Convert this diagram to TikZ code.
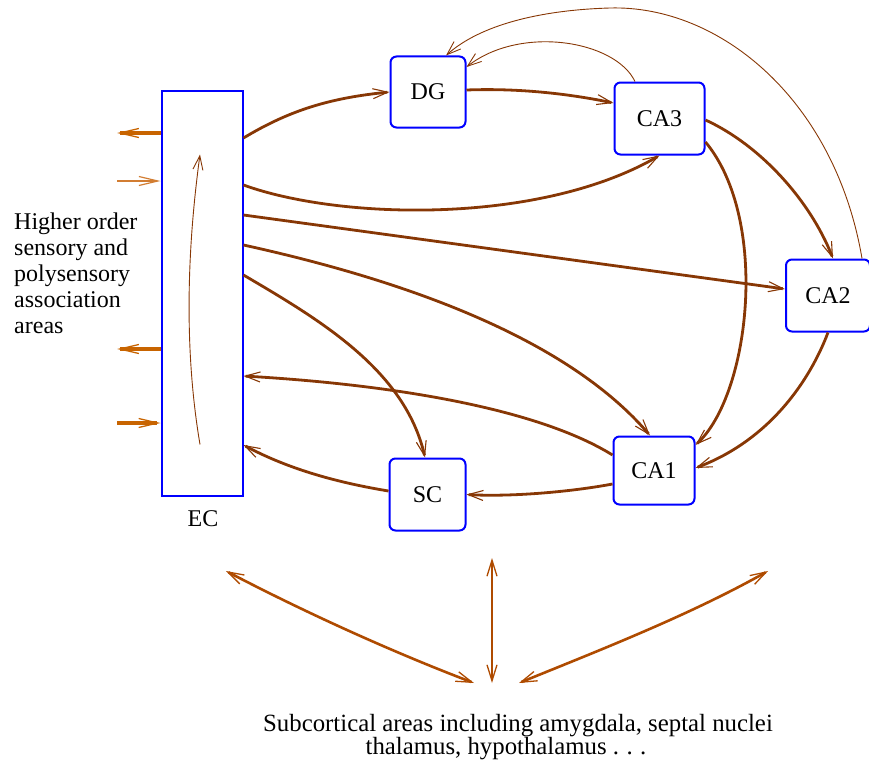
\documentclass[tikz,border=0pt]{standalone}
\usepackage{fontspec}
\setmainfont{Liberation Serif}
\usetikzlibrary{arrows.meta,calc}
\definecolor{boxblue}{RGB}{0,0,255}
\definecolor{mainbrown}{RGB}{135,55,5}
\definecolor{sideor}{RGB}{200,100,0}
\definecolor{sideorlight}{RGB}{210,125,50}
\definecolor{botor}{RGB}{175,75,0}
\begin{document}
\begin{tikzpicture}[x=1pt,y=-1pt,
  txt/.style={font=\fontsize{24}{26}\selectfont,inner sep=0pt},
  box/.style={draw=boxblue,line width=2pt,rounded corners=6pt,inner sep=0pt,font=\fontsize{24}{26}\selectfont},
  conn/.style={draw=mainbrown,line width=2.8pt,-{Straight Barb[length=15pt,width=10pt,line width=1.1pt]}},
  thinconn/.style={draw=mainbrown,line width=0.9pt,-{Straight Barb[length=14pt,width=10pt,line width=0.9pt]}},
  sidearr/.style={draw=sideor,line width=3.4pt,-{Straight Barb[length=19pt,width=9pt,line width=1.3pt]}},
  sidearrthin/.style={draw=sideorlight,line width=2pt,-{Straight Barb[length=19pt,width=9pt,line width=1.2pt]}},
  botarr/.style={draw=botor,line width=2.6pt,{Straight Barb[length=16pt,width=10pt,line width=1.3pt]}-{Straight Barb[length=16pt,width=10pt,line width=1.3pt]}}
]
\useasboundingbox (0,0) rectangle (869,760);

% nodes
\node[draw=boxblue,line width=2pt,minimum width=81pt,minimum height=405pt,inner sep=0pt] (EC) at (202,293) {};
\node[txt,anchor=north] (ECl) at (203,510) {EC};
\node[box,minimum width=75pt,minimum height=71pt] (DG) at (428,92) {DG};
\node[box,minimum width=90pt,minimum height=72pt] (CA3) at (659.5,118.5) {CA3};
\node[box,minimum width=84pt,minimum height=72pt] (CA2) at (828,295.5) {CA2};
\node[box,minimum width=81pt,minimum height=68pt] (CA1) at (654,470.5) {CA1};
\node[box,minimum width=76pt,minimum height=72pt] (SC) at (427.5,494.5) {SC};

\node[txt,anchor=west,align=left] (HO) at (14,273) {Higher order\\sensory and\\polysensory\\association\\areas};
\node[txt,align=center,anchor=north,font=\fontsize{24.8}{23.5}\selectfont] (SUB) at (518,714) {Subcortical areas including amygdala, septal nuclei\\thalamus, hypothalamus .\hspace{0.3em}.\hspace{0.3em}.\hspace*{24pt}};

% free ends
\coordinate (L1) at (117,133);
\coordinate (L2) at (117,181);
\coordinate (L3) at (117,349);
\coordinate (L4) at (117,423);
\coordinate (B1) at (226,571);
\coordinate (B2) at (474,683);
\coordinate (B3) at (492,558);
\coordinate (B4) at (492,683);
\coordinate (B5) at (519,683);
\coordinate (B6) at (768,571);

% main connectors
\draw[conn] (EC.east |- 0,138) .. controls (290,110) and (330,98) .. (DG.west);
\draw[conn] (DG.east |- 0,90) .. controls (520,88) and (570,94) .. (CA3.west |- 0,103);
\draw[conn] (EC.east |- 0,185) .. controls (340,220) and (540,225) .. (CA3.south);
\draw[conn] (EC.east |- 0,215) -- (CA2.west |- 0,289);
\draw[conn] (EC.east |- 0,245) .. controls (380,275) and (560,330) .. (CA1.north -| 650,0);
\draw[conn] (EC.east |- 0,275) .. controls (320,320) and (405,370) .. (SC.north -| 425,0);
\draw[conn] (CA1.west |- 0,455) .. controls (540,410) and (400,385) .. (EC.east |- 0,376);
\draw[conn] (SC.west |- 0,491) .. controls (340,483) and (290,470) .. (EC.east |- 0,445);
\draw[conn] (CA1.west |- 0,484) .. controls (570,492) and (510,497) .. (SC.east);
\draw[conn] (CA3.east |- 0,142) .. controls (770,220) and (750,395) .. (CA1.east |- 0,445);
\draw[conn] (CA3.east |- 0,120) .. controls (760,145) and (810,200) .. (CA2.north -| 833,0);
\draw[conn] (CA2.south -| 828,0) .. controls (810,380) and (770,440) .. (CA1.east |- 0,468);

% thin back projections
\draw[thinconn] (CA3.north -| 635,0) .. controls (615,40) and (520,25) .. (DG.east |- 0,67);
\draw[thinconn] (CA2.north -| 862,0) .. controls (835,100) and (720,5) .. (610,8) .. controls (540,10) and (480,25) .. (DG.north -| 446,0);
\draw[thinconn] ($(EC.south)+(-2,-52)$) .. controls (184,350) and (187,250) .. ($(EC.north)+(-2,65)$);

% side arrows
\draw[sidearr] (EC.west |- L1) -- (L1);
\draw[sidearrthin] (L2) -- (EC.west |- L2);
\draw[sidearr] (EC.west |- L3) -- (L3);
\draw[sidearr] (L4) -- (EC.west |- L4);

% bottom arrows
\draw[botarr] (B1) .. controls (310,615) and (400,655) .. (B2);
\draw[botarr] (B3) -- (B4);
\draw[botarr] (B5) .. controls (600,650) and (690,615) .. (B6);
\end{tikzpicture}
\end{document}
